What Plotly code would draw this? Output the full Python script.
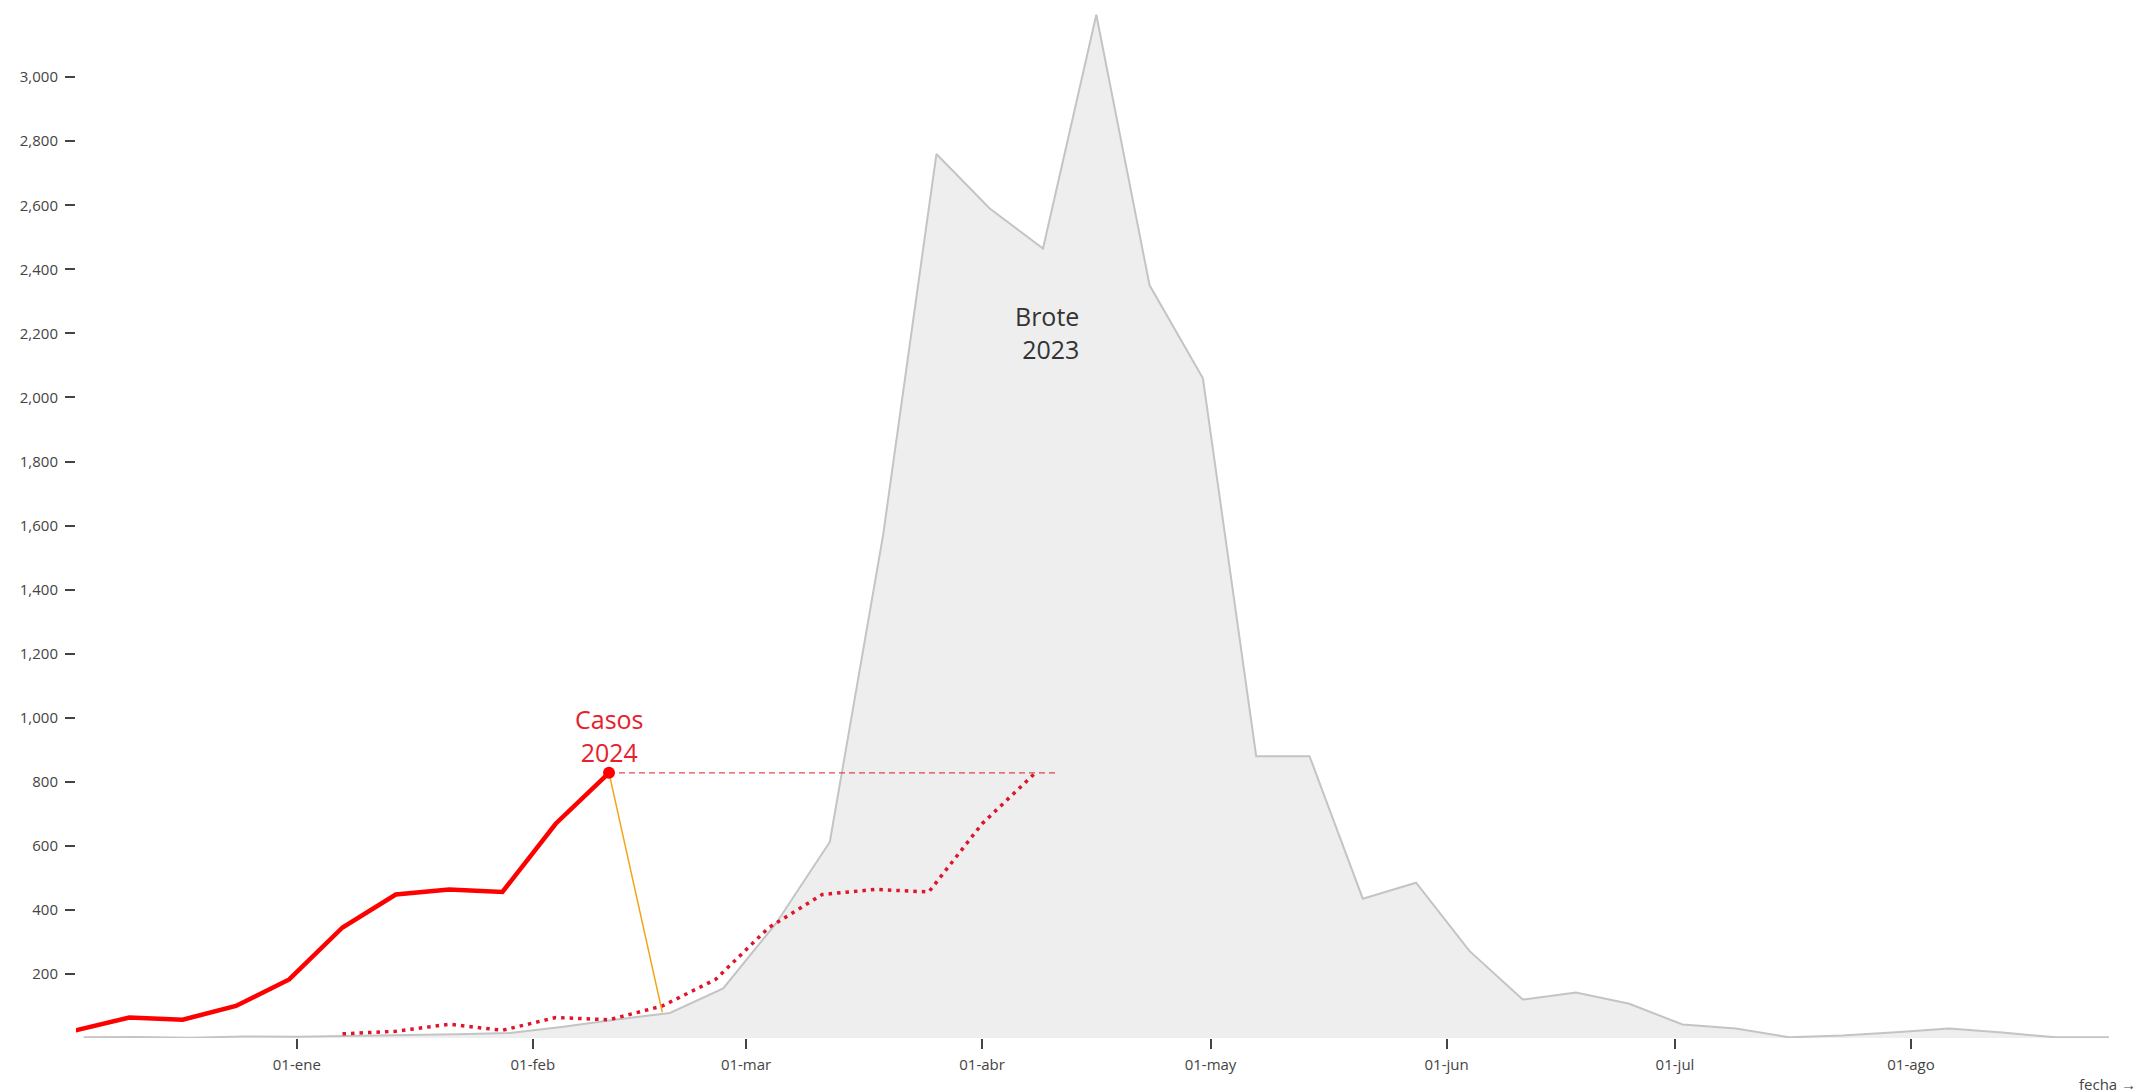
import pandas as pd
import plotly.graph_objects as go

# ---- Data -------------------------------------------------------------
# 2023 outbreak, weekly cases (epidemiological week start)
brote_fechas = [
    "2022-12-04", "2022-12-11", "2022-12-18", "2022-12-25", "2023-01-01",
    "2023-01-08", "2023-01-15", "2023-01-22", "2023-01-29", "2023-02-05",
    "2023-02-12", "2023-02-19", "2023-02-26", "2023-03-05", "2023-03-12",
    "2023-03-19", "2023-03-26", "2023-04-02", "2023-04-09", "2023-04-16",
    "2023-04-23", "2023-04-30", "2023-05-07", "2023-05-14", "2023-05-21",
    "2023-05-28", "2023-06-04", "2023-06-11", "2023-06-18", "2023-06-25",
    "2023-07-02", "2023-07-09", "2023-07-16", "2023-07-23", "2023-07-30",
    "2023-08-06", "2023-08-13", "2023-08-20", "2023-08-27",
]
brote_casos = [
    2, 3, 1, 5, 4,
    6, 8, 12, 16, 35,
    58, 78, 155, 360, 612,
    1570, 2760, 2590, 2465, 3195,
    2350, 2060, 880, 880, 435,
    485, 272, 120, 142, 107,
    42, 30, 2, 8, 18,
    30, 17, 2, 2,
]

# 2024 cases, placed on the previous year's calendar
casos24_fechas = [
    "2022-11-12", "2022-11-19", "2022-11-26", "2022-12-03", "2022-12-10",
    "2022-12-17", "2022-12-24", "2022-12-31", "2023-01-07", "2023-01-14",
    "2023-01-21", "2023-01-28", "2023-02-04", "2023-02-11",
]
casos24 = [13, 21, 43, 24, 64, 57, 100, 183, 345, 448, 464, 456, 669, 828]

desfase_semanas = 8  # dotted copy shifted forward

# Link from last 2024 point down to the 2023 curve
enlace_fechas = ["2023-02-11", "2023-02-18"]
enlace_casos = [828, 80]

# Axis ticks
x_ticks = ["2023-01-01", "2023-02-01", "2023-03-01", "2023-04-01",
           "2023-05-01", "2023-06-01", "2023-07-01", "2023-08-01"]
x_ticktext = ["01-ene", "01-feb", "01-mar", "01-abr",
              "01-may", "01-jun", "01-jul", "01-ago"]
y_ticks = [200, 400, 600, 800, 1000, 1200, 1400, 1600, 1800, 2000,
           2200, 2400, 2600, 2800, 3000]
y_ticktext = [f"{v:,}" for v in y_ticks]

# ---- Figure -----------------------------------------------------------
FONT = "Open Sans, Segoe UI, sans-serif"
TXT = "#444444"

f24 = pd.to_datetime(casos24_fechas)
f24_desf = f24 + pd.Timedelta(weeks=desfase_semanas)

fig = go.Figure()

fig.add_trace(go.Scatter(
    x=pd.to_datetime(brote_fechas), y=brote_casos, mode="lines",
    fill="tozeroy", fillcolor="#eeeeee",
    line=dict(color="#c4c4c4", width=2),
    hoverinfo="skip",
))

# dashed reference line at latest 2024 level
fig.add_trace(go.Scatter(
    x=[f24[-1], f24_desf[-1] + pd.Timedelta(days=3)],
    y=[casos24[-1], casos24[-1]], mode="lines",
    line=dict(color="rgba(225,40,50,0.85)", width=1.2, dash="6px,4px"),
    hoverinfo="skip",
))

fig.add_trace(go.Scatter(
    x=f24_desf, y=casos24, mode="lines",
    line=dict(color="#e0142a", width=3.5, dash="3.5px,5px"),
    hoverinfo="skip",
))

fig.add_trace(go.Scatter(
    x=pd.to_datetime(enlace_fechas), y=enlace_casos, mode="lines",
    line=dict(color="#f2a31a", width=1.5),
    hoverinfo="skip",
))

fig.add_trace(go.Scatter(
    x=f24, y=casos24, mode="lines",
    line=dict(color="#ff0000", width=4.5),
    hoverinfo="skip",
))

fig.add_trace(go.Scatter(
    x=[f24[-1]], y=[casos24[-1]], mode="markers",
    marker=dict(color="#ff0000", size=12),
    hoverinfo="skip",
))

fig.add_annotation(
    x="2023-04-14", y=2204, text="Brote<br>2023", showarrow=False,
    xanchor="right", yanchor="middle", align="right",
    font=dict(family=FONT, size=25, color="#333333"),
)

fig.add_annotation(
    x=f24[-1], y=casos24[-1], text="Casos<br>2024", showarrow=False,
    xanchor="center", yanchor="middle", align="center", yshift=37,
    font=dict(family=FONT, size=25, color="#e8202a"),
)

fig.add_annotation(
    xref="paper", yref="paper", x=1.0145, y=0, text="fecha →",
    showarrow=False, xanchor="right", yanchor="top", yshift=-34,
    font=dict(family=FONT, size=15, color=TXT),
)

fig.update_layout(
    width=2143, height=1092,
    margin=dict(l=68, r=42, t=0, b=62),
    paper_bgcolor="white", plot_bgcolor="white",
    showlegend=False,
    font=dict(family=FONT, size=15, color=TXT),
    xaxis=dict(
        type="date", range=["2022-12-03", "2023-08-27"],
        showgrid=False, zeroline=False, showline=False,
        ticks="outside", ticklen=10, tickwidth=1.5, tickcolor="#444444",
        tickvals=pd.to_datetime(x_ticks), ticktext=x_ticktext,
        tickfont=dict(family=FONT, size=15, color=TXT),
        ticklabelstandoff=3,
    ),
    yaxis=dict(
        range=[0, 3216],
        showgrid=False, zeroline=False, showline=False,
        ticks="outside", ticklen=10, tickwidth=1.5, tickcolor="#444444",
        tickvals=y_ticks, ticktext=y_ticktext,
        tickfont=dict(family=FONT, size=15, color=TXT),
        ticklabelstandoff=4,
    ),
)

fig.write_html("out.html")
